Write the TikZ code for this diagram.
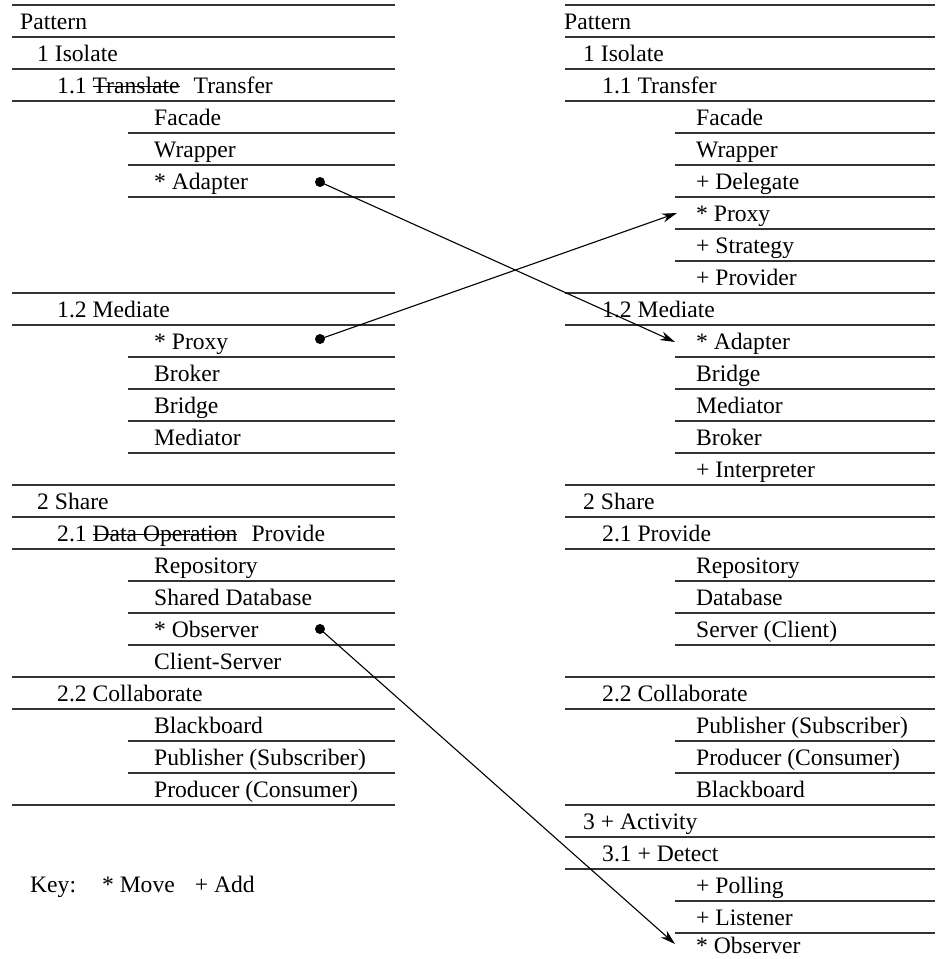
\documentclass[tikz,border=0pt]{standalone}
\usepackage{fontspec}
\setmainfont{Liberation Serif}
\usetikzlibrary{arrows.meta}

% struck-out word: a rule laid across the text at mid x-height
\newcommand{\strikeword}[1]{\setbox0\hbox{#1}\rlap{\rule[0.25em]{\wd0}{1.1pt}}\box0}

\tikzset{
  lbl/.style={anchor=base west, inner sep=0pt, font=\fontsize{23.6}{28}\selectfont},
  rule/.style={line width=1.2pt, draw=black!80},
  dotnode/.style={circle, fill=black, inner sep=0pt, minimum size=10pt},
  conn/.style={line width=1.1pt, -{Stealth[length=15pt, width=9pt]}}
}
% row i: bottom rule at 5+32i, text baseline at 32i-3
\newcommand{\fullL}[1]{\draw[rule] (12,{5+32*#1}) -- (395,{5+32*#1});}
\newcommand{\indL}[1]{\draw[rule] (128,{5+32*#1}) -- (395,{5+32*#1});}
\newcommand{\fullR}[1]{\draw[rule] (565,{5+32*#1}) -- (935,{5+32*#1});}
\newcommand{\indR}[1]{\draw[rule] (675,{5+32*#1}) -- (935,{5+32*#1});}

\begin{document}
\begin{tikzpicture}[x=1pt, y=-1pt]
\useasboundingbox (0,0) rectangle (935,959);

% ---------- left column: rules ----------
\foreach \k in {0,1,2,3,9,10,15,16,17,21,22,25} {\fullL{\k}}
\foreach \k in {4,5,6,11,12,13,14,18,19,20,23,24} {\indL{\k}}

% ---------- left column: entries ----------
\node[lbl] (lPattern)  at (20, 29)  {Pattern};
\node[lbl] (lIsolate)  at (37, 61)  {1 Isolate};
\node[lbl] (lTransfer) at (57, 93)  {1.1 \strikeword{Translate}\hspace{0.35em} Transfer};
\node[lbl] (lFacade)   at (154,125) {Facade};
\node[lbl] (lWrapper)  at (154,157) {Wrapper};
\node[lbl] (lAdapter)  at (154,189) {* Adapter};
\node[lbl] (lMediate)  at (57, 317) {1.2 Mediate};
\node[lbl] (lProxy)    at (154,349) {* Proxy};
\node[lbl] (lBroker)   at (154,381) {Broker};
\node[lbl] (lBridge)   at (154,413) {Bridge};
\node[lbl] (lMediator) at (154,445) {Mediator};
\node[lbl] (lShare)    at (37, 509) {2 Share};
\node[lbl] (lProvide)  at (57, 541) {2.1 \strikeword{Data Operation}\hspace{0.35em} Provide};
\node[lbl] (lRepo)     at (154,573) {Repository};
\node[lbl] (lSharedDB) at (154,605) {Shared Database};
\node[lbl] (lObserver) at (154,637) {* Observer};
\node[lbl] (lClient)   at (154,669) {Client-Server};
\node[lbl] (lCollab)   at (57, 701) {2.2 Collaborate};
\node[lbl] (lBlack)    at (154,733) {Blackboard};
\node[lbl] (lPub)      at (154,765) {Publisher (Subscriber)};
\node[lbl] (lProd)     at (154,797) {Producer (Consumer)};

\node[lbl] (key) at (30,892) {Key:\hspace{26pt}* Move\hspace{20pt}+ Add};

% ---------- right column: rules ----------
\foreach \k in {0,1,2,3,9,10,15,16,17,21,22,25,26,27} {\fullR{\k}}
\foreach \k in {4,5,6,7,8,11,12,13,14,18,19,20,23,24,28,29} {\indR{\k}}

% ---------- right column: entries ----------
\node[lbl] (rPattern)  at (564, 29)  {Pattern};
\node[lbl] (rIsolate)  at (583, 61)  {1 Isolate};
\node[lbl] (rTransfer) at (602, 93)  {1.1 Transfer};
\node[lbl] (rFacade)   at (696,125) {Facade};
\node[lbl] (rWrapper)  at (696,157) {Wrapper};
\node[lbl] (rDelegate) at (696,189) {+ Delegate};
\node[lbl] (rProxy)    at (696,221) {* Proxy};
\node[lbl] (rStrategy) at (696,253) {+ Strategy};
\node[lbl] (rProvider) at (696,285) {+ Provider};
\node[lbl] (rMediate)  at (602,317) {1.2 Mediate};
\node[lbl] (rAdapter)  at (696,349) {* Adapter};
\node[lbl] (rBridge)   at (696,381) {Bridge};
\node[lbl] (rMediator) at (696,413) {Mediator};
\node[lbl] (rBroker)   at (696,445) {Broker};
\node[lbl] (rInterp)   at (696,477) {+ Interpreter};
\node[lbl] (rShare)    at (583,509) {2 Share};
\node[lbl] (rProvide)  at (602,541) {2.1 Provide};
\node[lbl] (rRepo)     at (696,573) {Repository};
\node[lbl] (rDatabase) at (696,605) {Database};
\node[lbl] (rServer)   at (696,637) {Server (Client)};
\node[lbl] (rCollab)   at (602,701) {2.2 Collaborate};
\node[lbl] (rPub)      at (696,733) {Publisher (Subscriber)};
\node[lbl] (rProd)     at (696,765) {Producer (Consumer)};
\node[lbl] (rBlack)    at (696,797) {Blackboard};
\node[lbl] (rActivity) at (583,829) {3 + Activity};
\node[lbl] (rDetect)   at (602,861) {3.1 + Detect};
\node[lbl] (rPolling)  at (696,893) {+ Polling};
\node[lbl] (rListener) at (696,925) {+ Listener};
\node[lbl] (rObserver) at (696,953) {* Observer};

% ---------- moves ----------
\node[dotnode] (dAdapter)  at (320,182) {};
\node[dotnode] (dProxy)    at (320,339) {};
\node[dotnode] (dObserver) at (320,629) {};
\coordinate (tAdapter)  at (675,342);
\coordinate (tProxy)    at (677,213);
\coordinate (tObserver) at (675,944);
\draw[conn] (dAdapter.center)  -- (tAdapter);
\draw[conn] (dProxy.center)    -- (tProxy);
\draw[conn] (dObserver.center) -- (tObserver);
\end{tikzpicture}
\end{document}
